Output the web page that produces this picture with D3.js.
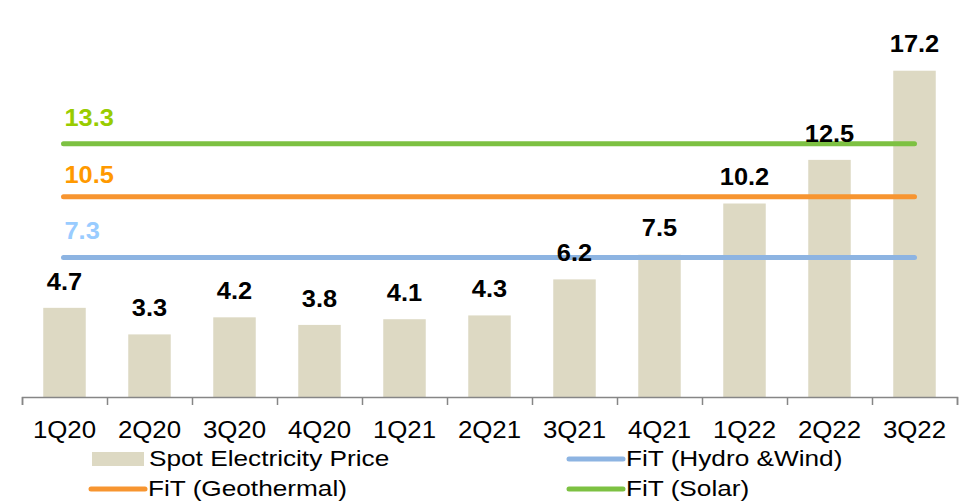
<!DOCTYPE html>
<html>
<head>
<meta charset="utf-8">
<script src="https://cdn.jsdelivr.net/npm/d3@7"></script>
<style>
  body { margin: 0; background: #fff; }
  svg text { font-family: "Liberation Sans", Arial, sans-serif; }
</style>
</head>
<body>
<svg id="chart" width="974" height="504"></svg>
<script>
var quarters = ['1Q20', '2Q20', '3Q20', '4Q20', '1Q21', '2Q21', '3Q21', '4Q21', '1Q22', '2Q22', '3Q22'];
var spotPrice = [4.7, 3.3, 4.2, 3.8, 4.1, 4.3, 6.2, 7.5, 10.2, 12.5, 17.2];
var fitNames = ['FiT (Hydro &Wind)', 'FiT (Geothermal)', 'FiT (Solar)'];
var fitValues = [7.3, 10.5, 13.3];

var lineColors = ['#8db4e2', '#f79530', '#7dc142'];
var labelColors = ['#99ccff', '#ff9900', '#99cc00'];
var labelGap = [19, 13.5, 18]; // how far each FiT label sits above its line

var svg = d3.select('#chart');

var x = d3.scaleBand().domain(quarters).range([22, 957]).padding(0);
var y = d3.scaleLinear().domain([0, 20]).range([397, 17.6]);
var bw = x.bandwidth();

// the original text is a little wider than Arial, so stretch it sideways
function placeText(sel, fx, fy, sx) {
  sel.attr('transform', function(d, i) {
    return 'translate(' + fx(d, i) + ',' + fy(d, i) + ') scale(' + sx + ',1)';
  });
}

// bars
svg.append('g').selectAll('rect')
  .data(spotPrice)
  .enter().append('rect')
  .attr('x', function(d, i) { return x(quarters[i]) + bw * 0.25; })
  .attr('width', bw * 0.5)
  .attr('y', function(d) { return y(d); })
  .attr('height', function(d) { return y(0) - y(d); })
  .attr('fill', '#ddd9c3');

// axis: ticks on category boundaries, labels in the middle
var tickScale = d3.scaleLinear().domain([0, quarters.length]).range(x.range());
var axisG = svg.append('g').attr('transform', 'translate(0,' + y(0) + ')')
  .call(d3.axisBottom(tickScale).ticks(quarters.length).tickSize(8).tickSizeOuter(8).tickFormat(''));
axisG.selectAll('path, line').attr('stroke', '#868686').attr('stroke-width', 1.5);

svg.append('g').selectAll('text')
  .data(quarters)
  .enter().append('text')
  .attr('text-anchor', 'middle')
  .attr('font-size', 23.3)
  .attr('fill', '#000')
  .text(function(d) { return d; })
  .call(placeText, function(d) { return x(d) + bw / 2; }, function() { return 437.6; }, 1.11);

// FiT lines from first to last category centre
var x0 = x(quarters[0]) + bw / 2;
var x1 = x(quarters[quarters.length - 1]) + bw / 2;
svg.append('g').selectAll('line')
  .data(fitValues)
  .enter().append('line')
  .attr('x1', x0 - 1)
  .attr('x2', x1)
  .attr('y1', function(d) { return y(d) - 1; })
  .attr('y2', function(d) { return y(d) - 1; })
  .attr('stroke', function(d, i) { return lineColors[i]; })
  .attr('stroke-width', 5)
  .attr('stroke-linecap', 'round');

svg.append('g').selectAll('text')
  .data(fitValues)
  .enter().append('text')
  .attr('font-size', 23.3)
  .attr('font-weight', 'bold')
  .attr('fill', function(d, i) { return labelColors[i]; })
  .text(function(d) { return d.toFixed(1); })
  .call(placeText, function() { return x0; }, function(d, i) { return y(d) - 1 - labelGap[i]; }, 1.09);

// bar value labels
svg.append('g').selectAll('text')
  .data(spotPrice)
  .enter().append('text')
  .attr('text-anchor', 'middle')
  .attr('font-size', 23.3)
  .attr('font-weight', 'bold')
  .attr('fill', '#000')
  .text(function(d) { return d.toFixed(1); })
  .call(placeText, function(d, i) { return x(quarters[i]) + bw / 2; }, function(d) { return y(d) - 18.3; }, 1.09);

// legend
var legend = svg.append('g').attr('font-size', 22.8);
var items = [
  { name: 'Spot Electricity Price', type: 'bar', color: '#ddd9c3', lx: 92, ly: 459 },
  { name: fitNames[0], type: 'line', color: lineColors[0], lx: 569, ly: 459 },
  { name: fitNames[1], type: 'line', color: lineColors[1], lx: 91, ly: 489 },
  { name: fitNames[2], type: 'line', color: lineColors[2], lx: 569, ly: 489 }
];
items.forEach(function(it) {
  if (it.type === 'bar') {
    legend.append('rect').attr('x', it.lx).attr('y', it.ly - 7)
      .attr('width', 52).attr('height', 14).attr('fill', it.color);
  } else {
    legend.append('line').attr('x1', it.lx).attr('x2', it.lx + 54)
      .attr('y1', it.ly).attr('y2', it.ly)
      .attr('stroke', it.color).attr('stroke-width', 5).attr('stroke-linecap', 'round');
  }
  legend.append('text')
    .attr('transform', 'translate(' + (it.lx + 57) + ',' + (it.ly + 7.3) + ') scale(1.15,1)')
    .attr('fill', '#000').text(it.name);
});
</script>
</body>
</html>
